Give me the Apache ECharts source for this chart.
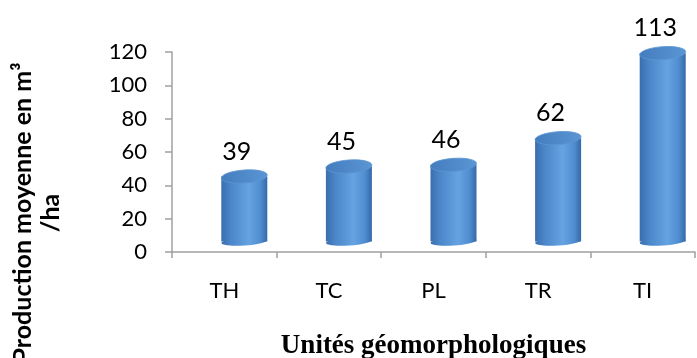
<!DOCTYPE html>
<html>
<head>
<meta charset="utf-8">
<script src="https://cdn.jsdelivr.net/npm/echarts@6/dist/echarts.min.js"></script>
<style>
  html, body { margin: 0; padding: 0; background: #fff; }
  #chart { width: 697px; height: 358px; }
</style>
</head>
<body>
<div id="chart"></div>
<script>
var units = ['TH', 'TC', 'PL', 'TR', 'TI'];
var production = [39, 45, 46, 62, 113];
var yTicks = [0, 20, 40, 60, 80, 100, 120];

var chartDom = document.getElementById('chart');
var myChart = echarts.init(chartDom);
var option;

// cylinder look of the excel 3d bars
var bodyFill = new echarts.graphic.LinearGradient(0, 0, 1, 0, [
  { offset: 0, color: '#3a6eae' },
  { offset: 0.2, color: '#4a86c8' },
  { offset: 0.6, color: '#66a3e2' },
  { offset: 0.85, color: '#4f8dd0' },
  { offset: 1, color: '#3569a8' }
]);
var topFill = new echarts.graphic.LinearGradient(0, 0, 1, 0, [
  { offset: 0, color: '#447dbe' },
  { offset: 1, color: '#5a95d4' }
]);

function renderCylinder(params, api) {
  var top = api.coord([api.value(0), api.value(1)]);
  var base = api.coord([api.value(0), 0]);
  var cx = top[0] + 20;
  var topY = top[1] - 10.5;
  var baseY = base[1] - 10.5;
  var rx = 23;
  return {
    type: 'group',
    children: [
      {
        type: 'ellipse',
        shape: { cx: cx, cy: baseY, rx: rx, ry: 4 },
        rotation: 0.07, originX: cx, originY: baseY,
        style: { fill: bodyFill }
      },
      {
        type: 'rect',
        shape: { x: cx - rx, y: topY, width: rx * 2, height: baseY - topY },
        style: { fill: bodyFill }
      },
      {
        type: 'ellipse',
        shape: { cx: cx, cy: topY, rx: rx, ry: 6.5 },
        rotation: 0.07, originX: cx, originY: topY,
        style: { fill: topFill, stroke: '#5b95d2', lineWidth: 0.8 }
      },
      {
        type: 'text',
        x: top[0] + 12.5,
        y: topY - 25,
        style: {
          text: String(api.value(1)),
          fill: '#000',
          font: '25px Lato',
          align: 'center',
          verticalAlign: 'middle'
        }
      }
    ]
  };
}

option = {
  animation: false,
  grid: { left: 172, right: 2, top: 52, bottom: 106, outerBoundsMode: 'none', containLabel: false },
  xAxis: {
    type: 'category',
    data: units,
    name: 'Unités géomorphologiques',
    nameLocation: 'middle',
    nameGap: 81,
    nameTextStyle: {
      color: '#000',
      fontFamily: 'Liberation Serif',
      fontWeight: 'bold',
      fontSize: 27
    },
    axisLine: { lineStyle: { color: '#a0a0a0', width: 1.5 } },
    axisTick: { show: true, length: 6, lineStyle: { color: '#a0a0a0', width: 1.5 } },
    axisLabel: { color: '#000', fontFamily: 'Lato', fontSize: 22, margin: 28 }
  },
  yAxis: {
    type: 'value',
    min: yTicks[0],
    max: yTicks[yTicks.length - 1],
    interval: 20,
    splitLine: { show: false },
    axisLine: { show: true, lineStyle: { color: '#a0a0a0', width: 1.5 } },
    axisTick: { show: true, length: 7, lineStyle: { color: '#a0a0a0', width: 1.5 } },
    axisLabel: { color: '#000', fontFamily: 'Lato', fontSize: 22, margin: 25 }
  },
  graphic: [
    {
      type: 'text',
      x: 37,
      y: 213,
      rotation: Math.PI / 2,
      style: {
        text: 'Production moyenne en m³\n/ha',
        fill: '#000',
        font: 'bold 25px Lato',
        lineHeight: 28,
        align: 'center',
        verticalAlign: 'middle'
      }
    }
  ],
  series: [
    {
      type: 'custom',
      renderItem: renderCylinder,
      encode: { x: 0, y: 1 },
      data: production.map(function (v, i) { return [i, v]; })
    }
  ]
};

option && myChart.setOption(option);
</script>
</body>
</html>
